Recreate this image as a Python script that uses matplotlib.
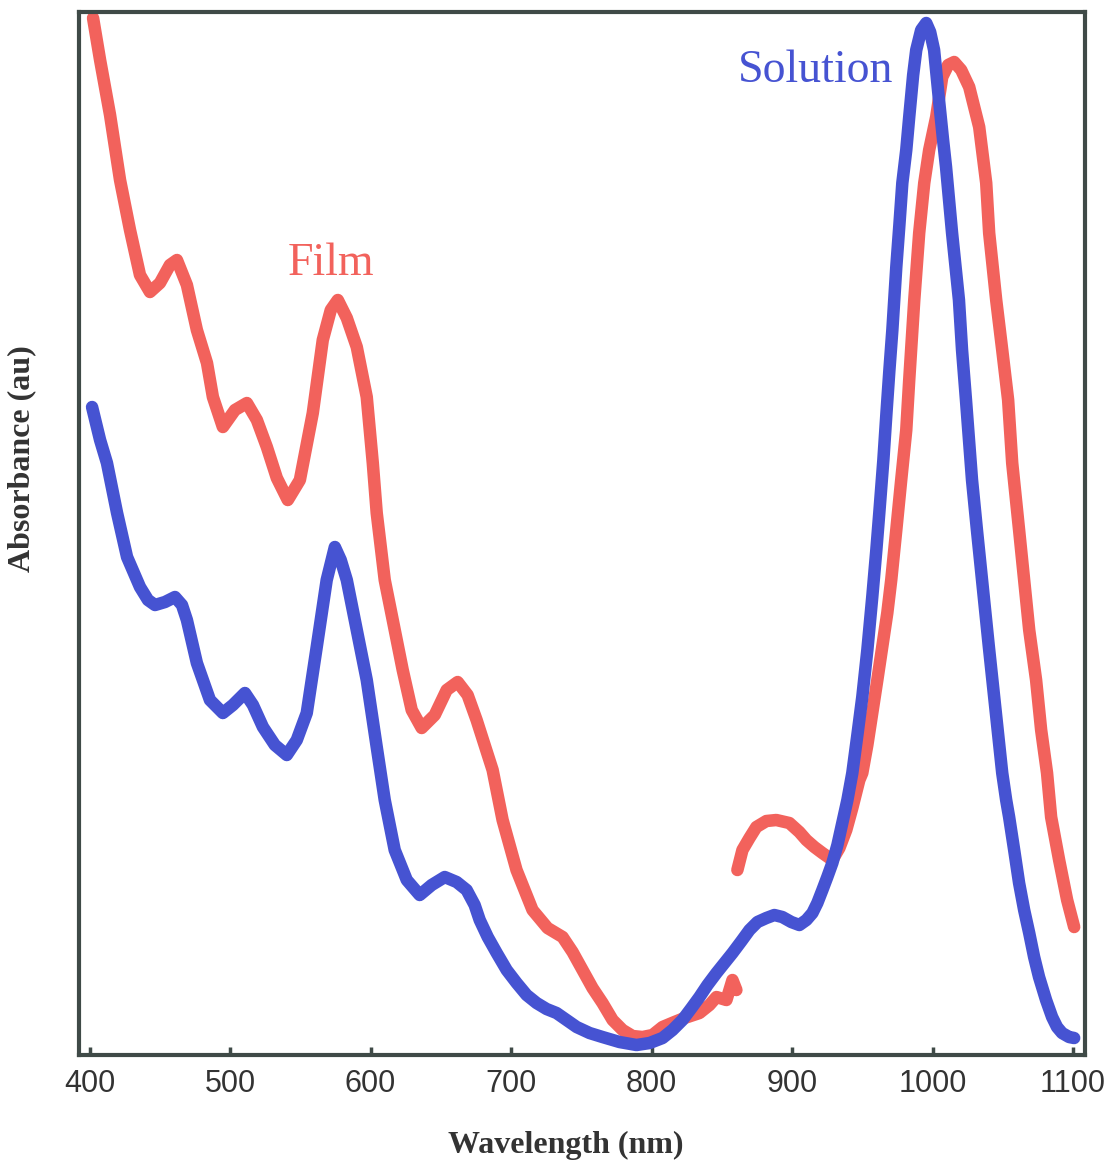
import matplotlib
matplotlib.use("Agg")
import matplotlib.pyplot as plt
import numpy as np

# Film spectrum, visible detector (400-860 nm)
film_vis_nm = [402.5, 407.5, 414.6, 421.7, 428.8, 435.9, 443.0, 450.1, 457.2, 462.2,
               469.3, 476.4, 483.6, 487.8, 494.9, 503.5, 512.0, 519.1, 526.2, 533.3,
               541.1, 549.7, 558.9, 566.0, 571.7, 576.7, 583.1, 590.2, 597.3, 601.6,
               604.4, 610.1, 615.8, 622.9, 629.3, 636.4, 645.7, 654.2, 662.0, 669.1,
               675.5, 681.2, 686.9, 694.0, 703.9, 715.3, 726.0, 736.7, 743.8, 750.9,
               758.0, 765.1, 772.3, 779.4, 786.5, 793.6, 800.7, 807.8, 816.3, 823.4,
               834.1, 841.2, 846.2, 853.3, 857.6, 860.4]
film_vis_abs = [1.037, 0.995, 0.940, 0.875, 0.825, 0.780, 0.763, 0.772, 0.790, 0.795,
                0.770, 0.725, 0.692, 0.658, 0.628, 0.645, 0.652, 0.635, 0.608, 0.577,
                0.555, 0.575, 0.642, 0.715, 0.745, 0.755, 0.737, 0.708, 0.658, 0.592,
                0.542, 0.475, 0.435, 0.385, 0.345, 0.327, 0.340, 0.365, 0.373, 0.360,
                0.335, 0.310, 0.285, 0.235, 0.185, 0.145, 0.127, 0.118, 0.103, 0.085,
                0.067, 0.052, 0.035, 0.025, 0.019, 0.018, 0.020, 0.028, 0.033, 0.037,
                0.042, 0.050, 0.058, 0.055, 0.075, 0.065]

# Film spectrum, NIR detector (860-1100 nm)
film_nir_nm = [861.1, 864.7, 869.7, 874.6, 881.7, 888.8, 898.1, 905.2, 910.2, 915.9,
               921.6, 928.7, 933.7, 938.6, 942.9, 947.9, 950.0, 953.6, 957.1, 960.7,
               964.2, 967.8, 970.6, 974.2, 977.7, 981.3, 983.4, 987.0, 990.5, 994.1,
               997.6, 1002.6, 1006.9, 1011.1, 1015.4, 1020.4, 1026.1, 1033.2, 1038.2, 1040.3,
               1045.3, 1049.6, 1053.8, 1056.7, 1061.6, 1065.2, 1068.8, 1073.7, 1077.3, 1081.5,
               1084.4, 1090.1, 1095.8, 1100.8]
film_nir_abs = [0.185, 0.205, 0.217, 0.228, 0.234, 0.235, 0.232, 0.223, 0.215, 0.208,
                0.202, 0.195, 0.207, 0.225, 0.247, 0.275, 0.282, 0.310, 0.342, 0.375,
                0.408, 0.442, 0.475, 0.525, 0.575, 0.625, 0.675, 0.755, 0.822, 0.872,
                0.905, 0.938, 0.978, 0.990, 0.993, 0.985, 0.968, 0.928, 0.872, 0.822,
                0.755, 0.705, 0.655, 0.592, 0.525, 0.475, 0.425, 0.375, 0.325, 0.282,
                0.238, 0.195, 0.155, 0.128]

# Solution spectrum
sol_nm = [401.8, 407.5, 412.4, 419.6, 426.7, 435.9, 441.6, 446.6, 453.7, 460.8,
          465.8, 469.3, 476.4, 485.7, 494.9, 502.0, 510.6, 516.3, 523.4, 531.9,
          540.4, 547.5, 554.6, 561.7, 568.8, 574.6, 578.8, 583.1, 590.2, 597.3,
          604.4, 610.1, 617.2, 625.8, 635.0, 643.5, 652.8, 661.3, 668.4, 674.1,
          677.7, 683.4, 689.8, 696.9, 704.0, 711.1, 718.2, 725.3, 732.4, 739.5,
          746.7, 755.9, 765.1, 777.2, 789.3, 798.6, 807.8, 814.9, 822.0, 828.4,
          834.1, 839.8, 846.2, 851.9, 857.6, 864.0, 869.7, 875.4, 881.7, 887.4,
          893.1, 899.5, 905.2, 910.2, 914.5, 918.0, 921.6, 925.1, 928.7, 932.3,
          935.8, 939.4, 942.9, 946.5, 950.0, 953.6, 957.1, 960.0, 962.1, 965.0,
          967.2, 969.3, 971.4, 974.2, 976.4, 978.5, 981.3, 983.4, 986.2, 988.4,
          991.9, 995.5, 998.3, 1001.1, 1004.6, 1007.5, 1009.6, 1013.9, 1018.8, 1021.0,
          1023.8, 1028.1, 1031.6, 1035.2, 1040.1, 1045.1, 1049.6, 1052.4, 1054.5, 1058.1,
          1061.6, 1065.2, 1068.8, 1072.3, 1075.8, 1080.8, 1085.1, 1088.6, 1092.2, 1097.2,
          1100.8]
sol_abs = [0.648, 0.615, 0.592, 0.542, 0.498, 0.468, 0.455, 0.450, 0.453, 0.458,
           0.450, 0.435, 0.392, 0.355, 0.342, 0.350, 0.362, 0.350, 0.328, 0.310,
           0.300, 0.315, 0.342, 0.408, 0.475, 0.508, 0.495, 0.475, 0.425, 0.375,
           0.308, 0.255, 0.205, 0.175, 0.160, 0.170, 0.178, 0.173, 0.165, 0.150,
           0.135, 0.118, 0.102, 0.085, 0.072, 0.060, 0.052, 0.046, 0.042, 0.035,
           0.028, 0.022, 0.018, 0.013, 0.010, 0.012, 0.017, 0.025, 0.035, 0.047,
           0.058, 0.070, 0.082, 0.092, 0.102, 0.114, 0.125, 0.133, 0.137, 0.140,
           0.138, 0.133, 0.130, 0.135, 0.142, 0.152, 0.165, 0.178, 0.192, 0.210,
           0.232, 0.255, 0.282, 0.320, 0.358, 0.405, 0.458, 0.505, 0.542, 0.595,
           0.642, 0.685, 0.725, 0.788, 0.830, 0.872, 0.905, 0.938, 0.980, 1.005,
           1.025, 1.032, 1.023, 1.005, 0.955, 0.915, 0.888, 0.822, 0.755, 0.705,
           0.655, 0.575, 0.525, 0.475, 0.408, 0.342, 0.282, 0.255, 0.238, 0.205,
           0.172, 0.145, 0.122, 0.098, 0.078, 0.055, 0.038, 0.028, 0.022, 0.018,
           0.017]

x_ticks = [400, 500, 600, 700, 800, 900, 1000, 1100]

FILM_COLOR = "#F2625C"
SOL_COLOR = "#4653D2"
AXIS_COLOR = "#3F4A47"
SERIF = ["Liberation Serif", "DejaVu Serif"]
SANS = ["Liberation Sans", "DejaVu Sans"]

fig = plt.figure(figsize=(11.19, 11.65), dpi=100)
ax = fig.add_axes([0.0706, 0.0944, 0.899, 0.8953])

line_kw = dict(lw=9, solid_capstyle="round", solid_joinstyle="round")
ax.plot(film_vis_nm, film_vis_abs, color=FILM_COLOR, **line_kw, zorder=2)
ax.plot(film_nir_nm, film_nir_abs, color=FILM_COLOR, **line_kw, zorder=2)
ax.plot(sol_nm, sol_abs, color=SOL_COLOR, **line_kw, zorder=3)

ax.set_xlim(392.5, 1108.5)
ax.set_ylim(0, 1.043)

ax.set_xticks(x_ticks)
ax.set_xticklabels([str(t) for t in x_ticks], fontfamily=SANS, fontsize=22,
                   color="#333333")
ax.set_yticks([])
ax.tick_params(axis="x", direction="in", length=6, width=2.5, color=AXIS_COLOR, pad=10)

for side in ax.spines.values():
    side.set_color(AXIS_COLOR)
    side.set_linewidth(3)

ax.set_xlabel("Wavelength (nm)", fontfamily=SERIF, fontweight="bold", fontsize=23,
              color="#333333", va="center")
ax.xaxis.set_label_coords(0.484, -0.0863)
ax.set_ylabel("Absorbance (au)", fontfamily=SERIF, fontweight="bold", fontsize=23,
              color="#333333", va="center")
ax.yaxis.set_label_coords(-0.0567, 0.572)

ax.text(541.2, 0.78, "Film", color=FILM_COLOR, fontfamily=SERIF, fontsize=33,
        ha="left", va="baseline")
ax.text(861.1, 0.973, "Solution", color=SOL_COLOR, fontfamily=SERIF, fontsize=33,
        ha="left", va="baseline")

fig.savefig("out.png", dpi=100, facecolor="white")
